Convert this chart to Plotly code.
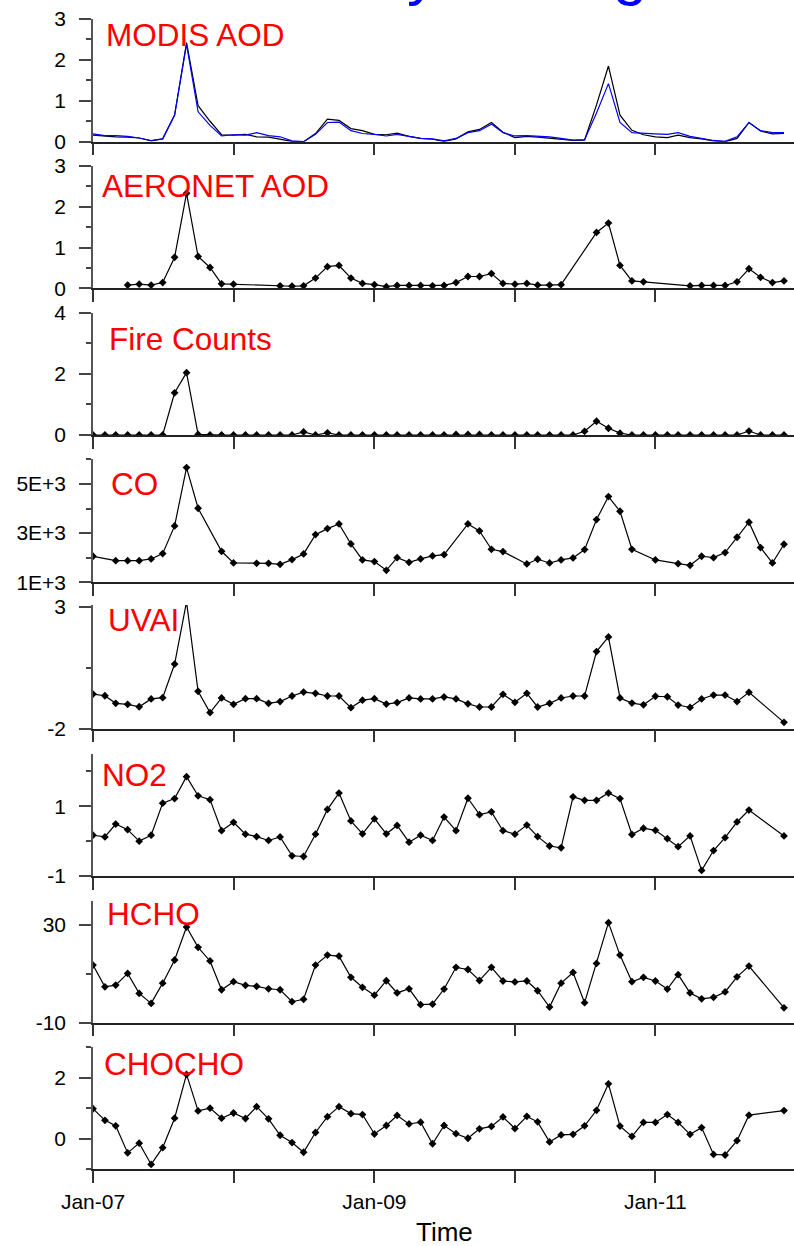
import pandas as pd
import plotly.graph_objects as go

N = None
months = pd.date_range("2007-01-01", periods=60, freq="MS")

modis_black = [0.16,0.13,0.12,0.11,0.09,0.02,0.07,0.65,2.42,0.88,
               0.50,0.17,0.16,0.18,0.12,0.11,0.07,0.01,0.00,0.20,
               0.55,0.52,0.32,0.27,0.18,0.17,0.21,0.13,0.08,0.06,
               0.01,0.07,0.24,0.30,0.47,0.23,0.10,0.13,0.11,0.08,
               0.05,0.03,0.04,0.90,1.85,0.65,0.28,0.17,0.12,0.10,
               0.16,0.10,0.07,0.02,0.00,0.08,0.47,0.26,0.19,0.20]
modis_blue = [0.19,0.15,0.15,0.13,0.09,0.03,0.07,0.65,2.38,0.73,
              0.40,0.14,0.17,0.16,0.22,0.15,0.12,0.02,0.00,0.18,
              0.47,0.48,0.27,0.20,0.18,0.14,0.18,0.12,0.08,0.07,
              0.02,0.08,0.22,0.27,0.43,0.22,0.14,0.15,0.14,0.12,
              0.08,0.04,0.05,0.70,1.42,0.47,0.22,0.20,0.19,0.18,
              0.22,0.13,0.08,0.03,0.01,0.12,0.47,0.27,0.22,0.22]
aeronet = [N,N,N,0.08,0.10,0.08,0.14,0.76,2.33,0.78,
           0.51,0.11,0.10,N,N,N,0.06,0.05,0.06,0.25,
           0.53,0.56,0.25,0.12,0.09,0.04,0.07,0.07,0.07,0.06,
           0.07,0.14,0.29,0.29,0.36,0.12,0.10,0.12,0.08,0.08,
           0.09,N,N,1.37,1.60,0.56,0.18,0.16,N,N,
           N,0.06,0.07,0.07,0.07,0.16,0.48,0.27,0.14,0.18]
fire = [0,0,0,0,0,0,0,1.38,2.04,0.02,
        0,0,0,0,0,0,0,0,0.10,0,
        0.07,0,0,0,0,0,0,0,0,0,
        0,0.02,0.02,0.02,0,0,0,0,0,0,
        0,0,0.12,0.45,0.22,0.06,0,0,0,0,
        0,0,0,0,0,0,0.13,0,0,0]
co = [2058,N,1881,1881,1881,1949,2166,3292,5664,4010,
      N,2261,1786,N,1773,1773,1732,1922,2153,2939,
      3183,3373,2559,1908,1841,1488,2003,1814,1949,2071,
      2125,N,3373,3088,2342,2247,N,1746,1936,1786,
      1908,1990,2329,3549,4485,3888,2342,N,1908,N,
      1759,1692,2058,2003,2207,2831,3441,2410,1786,2546]
uvai = [-0.58,-0.65,-0.96,-1.00,-1.10,-0.78,-0.73,0.65,3.20,-0.47,
        -1.34,-0.74,-1.00,-0.77,-0.77,-0.96,-0.89,-0.66,-0.50,-0.55,
        -0.66,-0.66,-1.14,-0.83,-0.77,-0.99,-0.93,-0.74,-0.78,-0.78,
        -0.70,-0.78,-0.98,-1.11,-1.11,-0.59,-0.92,-0.55,-1.11,-0.96,
        -0.74,-0.66,-0.66,1.16,1.76,-0.74,-0.95,-1.02,-0.67,-0.69,
        -1.03,-1.13,-0.78,-0.62,-0.62,-0.89,-0.51,N,N,-1.74]
no2 = [0.17,0.12,0.49,0.33,0.00,0.17,1.09,1.22,1.85,1.30,
       1.19,0.30,0.54,0.20,0.13,0.02,0.12,-0.42,-0.44,0.20,
       0.91,1.38,0.58,0.21,0.64,0.21,0.45,-0.03,0.17,0.02,
       0.69,0.30,1.23,0.76,0.84,0.30,0.20,0.46,0.13,-0.14,
       -0.19,1.27,1.17,1.17,1.38,1.22,0.19,0.37,0.31,0.07,
       -0.16,0.15,-0.84,-0.27,0.10,0.55,0.89,N,N,0.15]
hcho = [13.6,4.7,5.4,10.2,2.0,-2.1,6.2,15.7,29.2,20.9,
        15.3,3.5,6.8,5.3,4.9,3.9,3.5,-1.4,-0.4,13.6,
        17.7,17.3,8.6,4.5,1.3,7.2,2.2,3.9,-2.6,-2.4,
        3.8,12.7,11.8,7.3,12.7,7.1,6.7,7.1,3.1,-3.6,
        6.2,10.6,-1.8,14.3,31.0,17.7,6.8,8.6,7.1,3.8,
        9.7,2.2,-0.2,0.4,2.6,8.8,13.2,N,N,-3.9]
chocho = [0.98,0.60,0.42,-0.47,-0.15,-0.85,-0.30,0.67,2.11,0.91,
          1.00,0.67,0.84,0.66,1.05,0.65,0.11,-0.13,-0.45,0.20,
          0.72,1.05,0.82,0.79,0.15,0.43,0.76,0.48,0.54,-0.17,
          0.43,0.16,0.01,0.32,0.40,0.71,0.33,0.73,0.55,-0.11,
          0.12,0.14,0.42,0.93,1.80,0.41,0.07,0.53,0.53,0.79,
          0.53,0.14,0.36,-0.52,-0.54,-0.07,0.77,N,N,0.92]

panel_names = ["MODIS AOD", "AERONET AOD", "Fire Counts", "CO", "UVAI", "NO2", "HCHO", "CHOCHO"]
y_ranges = [[0, 3], [0, 3], [0, 4], [1000, 6000], [-2, 3.07], [-1, 2.5], [-10, 40], [-1, 3]]
major_vals = [[0, 1, 2, 3], [0, 1, 2, 3], [0, 2, 4], [1000, 3000, 5000], [-2, 3], [-1, 1], [-10, 30], [0, 2]]
major_text = [["0", "1", "2", "3"], ["0", "1", "2", "3"], ["0", "2", "4"], ["1E+3", "3E+3", "5E+3"],
              ["-2", "3"], ["-1", "1"], ["-10", "30"], ["0", "2"]]
minor_vals = [[0.5, 1.5, 2.5], [0.5, 1.5, 2.5], [1, 3], [2000, 4000, 6000], [0.5], [0, 2], [10], [-1, 1, 3]]
x_tick_dates = ["2007-01-01", "2008-01-01", "2009-01-01", "2010-01-01", "2011-01-01"]
x_tick_text = ["Jan-07", "", "Jan-09", "", "Jan-11"]
title_text = "Monthly Average"
x_title = "Time"

# ---- layout geometry (pixels) ----
W, H = 794, 1246
ML, MR, MT, MB = 93, 0, 19, 77
PH = H - MT - MB
PW = W - ML - MR
tops = [19, 166, 312.7, 459.3, 605, 754, 900.7, 1047.3]
bots = [141.7, 288.3, 435, 582.3, 728.7, 876, 1022.7, 1169]
label_left = [107, 103, 110, 112, 109, 103, 108, 105]
label_mid = [35, 185.5, 338.5, 483.5, 619.5, 774.5, 913.8, 1063.5]


def py(p):
    return (H - MB - p) / PH


def px(p):
    return (p - ML) / PW


fig = go.Figure()
series = [None, aeronet, fire, co, uvai, no2, hcho, chocho]
for k in range(8):
    xa = "x" if k == 0 else f"x{k+1}"
    ya = "y" if k == 0 else f"y{k+1}"
    if k == 0:
        fig.add_trace(go.Scatter(x=months, y=modis_black, mode="lines", xaxis=xa, yaxis=ya,
                                 line=dict(color="black", width=1.2), showlegend=False))
        fig.add_trace(go.Scatter(x=months, y=modis_blue, mode="lines", xaxis=xa, yaxis=ya,
                                 line=dict(color="#0000ff", width=1.2), showlegend=False))
    else:
        fig.add_trace(go.Scatter(x=months, y=series[k], mode="lines+markers", connectgaps=True,
                                 xaxis=xa, yaxis=ya, line=dict(color="black", width=1.2),
                                 marker=dict(symbol="diamond", size=6, color="black"),
                                 showlegend=False))

axis_font = dict(family="Liberation Sans, Arial, sans-serif", size=21, color="black")
for k in range(8):
    xkey = "xaxis" if k == 0 else f"xaxis{k+1}"
    ykey = "yaxis" if k == 0 else f"yaxis{k+1}"
    ya = "y" if k == 0 else f"y{k+1}"
    last = (k == 7)
    fig.layout[xkey] = dict(
        domain=[0, 1], anchor=ya, range=["2007-01-01", "2011-12-27"],
        matches=None if k == 0 else "x",
        tickmode="array", tickvals=x_tick_dates, ticktext=x_tick_text,
        showticklabels=last, ticks="outside", ticklen=12, tickwidth=1.5, tickcolor="#333",
        showline=True, linecolor="#222", linewidth=1.5, showgrid=False, zeroline=False,
        tickfont=dict(family="Liberation Sans, Arial, sans-serif", size=21, color="black"),
        ticklabelstandoff=1,
    )
    fig.layout[ykey] = dict(
        domain=[py(bots[k]), py(tops[k])], anchor="x" if k == 0 else f"x{k+1}",
        range=y_ranges[k], tickmode="array", tickvals=major_vals[k], ticktext=major_text[k],
        ticks="outside", ticklen=12, tickwidth=1.5, tickcolor="#444",
        minor=dict(tickmode="array", tickvals=minor_vals[k], ticks="outside", ticklen=5,
                   tickwidth=1.5, tickcolor="#444", showgrid=False),
        showline=True, linecolor="#555", linewidth=1.5, showgrid=False, zeroline=False,
        tickfont=axis_font, ticklabelstandoff=9,
    )

annotations = []
for k in range(8):
    annotations.append(dict(text=panel_names[k], xref="paper", yref="paper",
                            x=px(label_left[k] - 3), y=py(label_mid[k]),
                            xanchor="left", yanchor="middle", showarrow=False,
                            font=dict(family="Liberation Sans, Arial, sans-serif", size=31.5, color="#ff0000")))
annotations.append(dict(text=x_title, xref="paper", yref="paper", x=px(444.5), y=py(1232),
                        xanchor="center", yanchor="middle", showarrow=False,
                        font=dict(family="Liberation Sans, Arial, sans-serif", size=26, color="black")))
annotations.append(dict(text=title_text, xref="paper", yref="paper", x=px(451), y=py(8),
                        xanchor="center", yanchor="bottom", showarrow=False,
                        font=dict(family="Liberation Sans, Arial, sans-serif", size=62, color="#0000ff")))

fig.update_layout(width=W, height=H, margin=dict(l=ML, r=MR, t=MT, b=MB, autoexpand=False),
                  paper_bgcolor="white", plot_bgcolor="white", annotations=annotations,
                  showlegend=False)
fig.write_html("out.html")
